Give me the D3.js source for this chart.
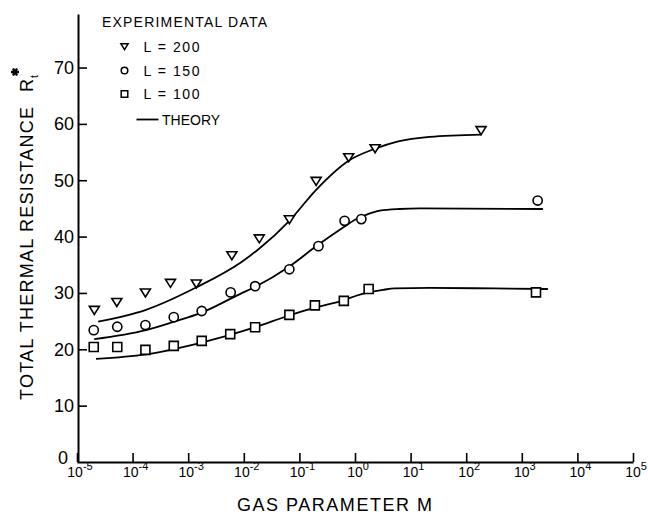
<!DOCTYPE html>
<html>
<head>
<meta charset="utf-8">
<script src="https://cdn.jsdelivr.net/npm/d3@7"></script>
<style>
  html, body { margin: 0; padding: 0; background: #fff; }
  svg { display: block; }
  text { font-family: "Liberation Sans", Arial, sans-serif; fill: #000; }
</style>
</head>
<body>
<svg id="chart" width="648" height="514"></svg>
<script>
// ---- data ----
const xTickExps = [-5, -4, -3, -2, -1, 0, 1, 2, 3, 4, 5];
const yTickValues = [0, 10, 20, 30, 40, 50, 60, 70];

// experimental data: gas parameter M and total thermal resistance R*t
const l200M = [2.05e-5, 5.2e-5, 1.7e-4, 4.8e-4, 1.4e-3, 6.1e-3, 1.9e-2, 6.6e-2, 0.2, 0.77, 2.3, 185];
const l200R = [26.9, 28.3, 30.0, 31.7, 31.6, 36.6, 39.6, 43.0, 49.8, 54.0, 55.6, 58.8];

const l150M = [2.0e-5, 5.3e-5, 1.7e-4, 5.5e-4, 1.75e-3, 5.8e-3, 1.6e-2, 6.6e-2, 0.22, 0.65, 1.3, 1930];
const l150R = [23.4, 24.0, 24.3, 25.7, 26.8, 30.1, 31.2, 34.2, 38.3, 42.8, 43.1, 46.4];

const l100M = [2.0e-5, 5.3e-5, 1.7e-4, 5.5e-4, 1.75e-3, 5.7e-3, 1.6e-2, 6.6e-2, 0.19, 0.63, 1.76, 1800];
const l100R = [20.4, 20.4, 19.9, 20.6, 21.5, 22.7, 23.9, 26.1, 27.8, 28.6, 30.7, 30.1];

// theory curves
const theory200M = [2.4e-5, 1.74e-4, 1.41e-3, 9.1e-3, 1.86e-2, 6.6e-2, 0.2, 0.78, 2.3, 6, 22, 186];
const theory200R = [24.9, 27.0, 31.0, 35.5, 37.8, 42.8, 48.3, 53.5, 55.6, 56.9, 57.7, 58.1];

const theory150M = [2.04e-5, 1.74e-4, 5.6e-4, 1.74e-3, 8.5e-3, 1.62e-2, 6.6e-2, 0.214, 0.65, 1.0, 1.62, 2.8, 6.3, 14.8, 2400];
const theory150R = [21.8, 23.4, 24.9, 26.5, 29.8, 31.1, 34.7, 38.5, 41.8, 43.0, 43.9, 44.6, 44.9, 45.0, 44.9];

const theory100M = [2.2e-5, 1.74e-4, 1.74e-3, 1.58e-2, 6.5e-2, 0.19, 0.62, 1.05, 1.78, 3.2, 5.2, 22, 316, 2950];
const theory100R = [18.3, 19.1, 21.2, 23.9, 26.0, 27.4, 28.7, 29.5, 30.1, 30.55, 30.8, 30.9, 30.8, 30.7];

const legendTitle = "EXPERIMENTAL DATA";
const legendLabels = ["L = 200", "L = 150", "L = 100"];
const theoryLabel = "THEORY";
const xLabel = "GAS PARAMETER M";
const yLabel = "TOTAL THERMAL RESISTANCE";

// ---- drawing ----
const svg = d3.select("#chart");
svg.append("rect").attr("width", 648).attr("height", 514).attr("fill", "#fff");

const x = d3.scaleLog().domain([1e-5, 1e5]).range([77, 633]);
const y = d3.scaleLinear().domain([0, 79.5]).range([462, 14]);

// axes
const xAxis = svg.append("g").attr("transform", "translate(0,462)")
  .call(d3.axisBottom(x).tickValues(xTickExps.map(e => Math.pow(10, e)))
    .tickSizeInner(-9).tickSizeOuter(0).tickFormat(""));
const yAxis = svg.append("g").attr("transform", "translate(78,0)")
  .call(d3.axisLeft(y).tickValues(yTickValues.filter(v => v > 0))
    .tickSizeInner(-9).tickSizeOuter(0).tickFormat(""));
[xAxis, yAxis].forEach(g => {
  g.select(".domain").attr("stroke", "#000").attr("stroke-width", 2);
  g.selectAll(".tick line").attr("stroke", "#000").attr("stroke-width", 1.6);
});

// x tick labels
const xl = svg.append("g");
xTickExps.forEach(e => {
  const t = xl.append("text")
    .attr("x", x(Math.pow(10, e)) + 3)
    .attr("y", 477)
    .attr("text-anchor", "middle")
    .attr("font-size", 14);
  t.append("tspan").text("10");
  t.append("tspan").attr("dy", -7).attr("font-size", 11).text(e < 0 ? "-" + Math.abs(e) : String(e));
});

// y tick labels
const yl = svg.append("g");
yTickValues.forEach(v => {
  yl.append("text")
    .attr("x", v === 0 ? 68 : 74)
    .attr("y", y(v) - (v === 0 ? 4 : 0))
    .attr("dy", "0.36em")
    .attr("text-anchor", "end")
    .attr("font-size", 18)
    .text(v);
});

// axis titles
svg.append("text")
  .attr("x", 237).attr("y", 511)
  .attr("font-size", 18)
  .attr("textLength", 195).attr("lengthAdjust", "spacing")
  .text(xLabel);

const yt = svg.append("g").attr("transform", "translate(33,400) rotate(-90)");
yt.append("text").attr("x", 0).attr("y", 0).attr("font-size", 18)
  .attr("textLength", 293).attr("lengthAdjust", "spacing")
  .text(yLabel);
yt.append("text").attr("x", 308).attr("y", 0).attr("font-size", 18).text("R");
yt.append("text").attr("x", 322).attr("y", 5).attr("font-size", 11).text("t");
yt.append("path")
  .attr("transform", "translate(328,-18)")
  .attr("d", d3.symbol(d3.symbolAsterisk, 45)())
  .attr("stroke", "#000").attr("stroke-width", 2.4).attr("fill", "none");

// theory lines
const line = d3.line().x(d => x(d[0])).y(d => y(d[1])).curve(d3.curveMonotoneX);
const theories = [
  d3.zip(theory200M, theory200R),
  d3.zip(theory150M, theory150R),
  d3.zip(theory100M, theory100R)
];
svg.append("g").selectAll("path").data(theories).join("path")
  .attr("d", line)
  .attr("fill", "none").attr("stroke", "#000").attr("stroke-width", 1.8);

// markers
const triPath = s => `M${-s},${-s * 0.8}L${s},${-s * 0.8}L0,${s * 0.8}Z`;
const sqPath = s => `M${-s},${-s}H${s}V${s}H${-s}Z`;

function drawMarker(g, kind, cx, cy, s) {
  if (kind === "tri") {
    g.append("path").attr("d", triPath(s)).attr("transform", `translate(${cx},${cy})`);
  } else if (kind === "circ") {
    g.append("circle").attr("cx", cx).attr("cy", cy).attr("r", s);
  } else {
    g.append("path").attr("d", sqPath(s)).attr("transform", `translate(${cx},${cy})`);
  }
}

const series = [
  { kind: "tri", pts: d3.zip(l200M, l200R), size: 5 },
  { kind: "circ", pts: d3.zip(l150M, l150R), size: 4.6 },
  { kind: "sq", pts: d3.zip(l100M, l100R), size: 4.5 }
];
const mg = svg.append("g").attr("fill", "#fff").attr("stroke", "#000").attr("stroke-width", 1.6);
series.forEach(s => {
  s.pts.forEach(p => drawMarker(mg, s.kind, x(p[0]), y(p[1]), s.size));
});

// legend
const lg = svg.append("g");
lg.append("text").attr("x", 102).attr("y", 26.7).attr("font-size", 14)
  .attr("textLength", 165).attr("lengthAdjust", "spacing").text(legendTitle);
const legRowsY = [51.7, 75.5, 99];
const legKinds = ["tri", "circ", "sq"];
const legSizes = [3.6, 3.3, 3.3];
const lmg = lg.append("g").attr("fill", "#fff").attr("stroke", "#000").attr("stroke-width", 1.5);
legendLabels.forEach((lab, i) => {
  drawMarker(lmg, legKinds[i], 124.5, legRowsY[i] - 5, legSizes[i]);
  lg.append("text").attr("x", 143.5).attr("y", legRowsY[i]).attr("font-size", 14)
    .attr("textLength", 56).attr("lengthAdjust", "spacing").text(lab);
});
lg.append("line").attr("x1", 136.5).attr("x2", 158.5).attr("y1", 119.5).attr("y2", 119.5)
  .attr("stroke", "#000").attr("stroke-width", 1.8);
lg.append("text").attr("x", 162).attr("y", 125).attr("font-size", 14)
  .text(theoryLabel);
</script>
</body>
</html>
